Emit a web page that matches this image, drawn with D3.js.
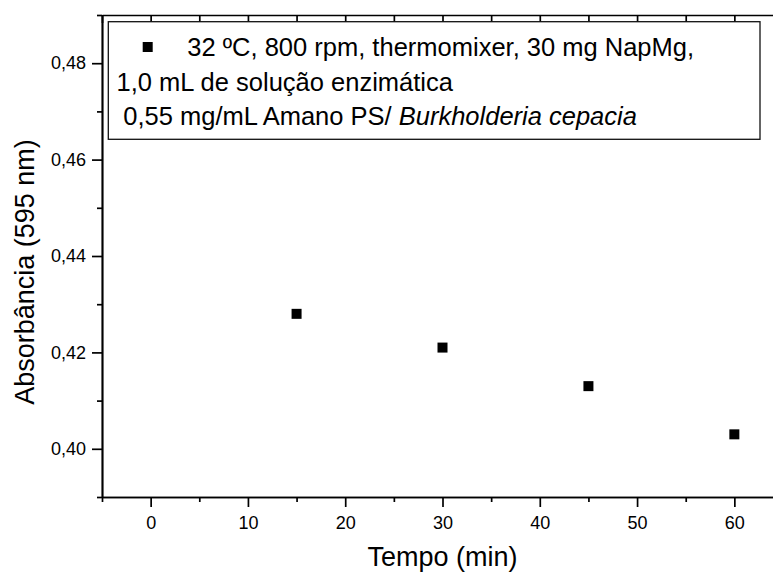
<!DOCTYPE html>
<html>
<head>
<meta charset="utf-8">
<script src="https://cdn.jsdelivr.net/npm/d3@7"></script>
<style>
  body { margin: 0; background: #fff; }
  svg { display: block; font-family: "Liberation Sans", Arial, sans-serif; }
</style>
</head>
<body>
<script>
// data
var tempo = [15, 30, 45, 60];
var absorbancia = [0.428, 0.421, 0.413, 0.403];

var xMajor = [0, 10, 20, 30, 40, 50, 60];
var xMinor = [-5, 5, 15, 25, 35, 45, 55, 65];
var yMajor = [0.40, 0.42, 0.44, 0.46, 0.48];
var yMinor = [0.39, 0.41, 0.43, 0.45, 0.47, 0.49];

var legendLines = [
    "32 ºC, 800 rpm, thermomixer, 30 mg NapMg,",
    "1,0 mL de solução enzimática",
    "0,55 mg/mL Amano PS/ "
];
var legendItalic = "Burkholderia cepacia";

var W = 773, H = 572;
var margin = {top: 15, right: -10, bottom: 75, left: 102};
var width = W - margin.left - margin.right,
    height = H - margin.top - margin.bottom;

var ptFormat = d3.formatLocale({decimal: ",", thousands: ".", grouping: [3], currency: ["", ""]});
var fmt2 = ptFormat.format(".2f");

var svg = d3.select("body").append("svg")
    .attr("width", W)
    .attr("height", H)
    .style("overflow", "hidden");

var g = svg.append("g")
    .attr("transform", "translate(" + margin.left + "," + margin.top + ")");

var x = d3.scaleLinear().domain([-5, 65]).range([0, width]);
var y = d3.scaleLinear().domain([0.39, 0.49]).range([height, 0]);

function styleAxis(sel) {
    sel.selectAll(".domain").attr("stroke", "#000").attr("stroke-width", 1.7);
    sel.selectAll(".tick line").attr("stroke", "#000").attr("stroke-width", 1.7);
    sel.selectAll("text").attr("fill", "#000").style("font-size", "18px")
        .style("font-family", '"Liberation Sans", Arial, sans-serif');
}

// bottom axis
g.append("g")
    .attr("transform", "translate(0," + height + ")")
    .call(d3.axisBottom(x).tickValues(xMinor).tickSize(5).tickFormat("").tickSizeOuter(0))
    .call(styleAxis);
g.append("g")
    .attr("transform", "translate(0," + height + ")")
    .call(d3.axisBottom(x).tickValues(xMajor).tickSize(10).tickPadding(9).tickFormat(d3.format("d")).tickSizeOuter(0))
    .call(styleAxis);

// left axis
g.append("g")
    .call(d3.axisLeft(y).tickValues(yMinor).tickSize(5).tickFormat("").tickSizeOuter(0))
    .call(styleAxis);
g.append("g")
    .call(d3.axisLeft(y).tickValues(yMajor).tickSize(10).tickPadding(6).tickFormat(fmt2).tickSizeOuter(0))
    .call(styleAxis);

// top axis, ticks inward
g.append("g")
    .call(d3.axisTop(x).tickValues(xMajor.concat(xMinor)).tickSize(-8).tickFormat("").tickSizeOuter(0))
    .call(styleAxis);

// right axis, ticks inward (mostly outside the window)
g.append("g")
    .attr("transform", "translate(" + width + ",0)")
    .call(d3.axisRight(y).tickValues(yMajor.concat(yMinor)).tickSize(-10).tickFormat("").tickSizeOuter(0))
    .call(styleAxis);

// points
var pts = tempo.map(function(t, i) { return {t: t, a: absorbancia[i]}; });
g.selectAll(".pt")
    .data(pts)
    .enter()
    .append("rect")
    .attr("class", "pt")
    .attr("x", function(d) { return x(d.t) - 5; })
    .attr("y", function(d) { return y(d.a) - 5; })
    .attr("width", 10)
    .attr("height", 10)
    .attr("fill", "#000");

// axis titles
svg.append("text")
    .attr("x", margin.left + width / 2)
    .attr("y", 565.5)
    .attr("text-anchor", "middle")
    .style("font-size", "27px")
    .text("Tempo (min)");

svg.append("text")
    .attr("transform", "translate(33.5,272) rotate(-90)")
    .attr("text-anchor", "middle")
    .style("font-size", "27px")
    .text("Absorbância (595 nm)");

// legend
var leg = svg.append("g");
leg.append("rect")
    .attr("x", 108.3)
    .attr("y", 21.7)
    .attr("width", 651.7)
    .attr("height", 117.6)
    .attr("fill", "#fff")
    .attr("stroke", "#111")
    .attr("stroke-width", 1.3);

leg.append("rect")
    .attr("x", 142.7)
    .attr("y", 42)
    .attr("width", 10)
    .attr("height", 10)
    .attr("fill", "#000");

var legX = [187.3, 116.5, 123.3];
var legY = [55.5, 90.5, 124.5];
legendLines.forEach(function(s, i) {
    var t = leg.append("text")
        .attr("x", legX[i])
        .attr("y", legY[i])
        .style("font-size", "25.5px")
        .text(s);
    if (i == 2) {
        t.append("tspan").style("font-style", "italic").text(legendItalic);
    }
});
</script>
</body>
</html>
